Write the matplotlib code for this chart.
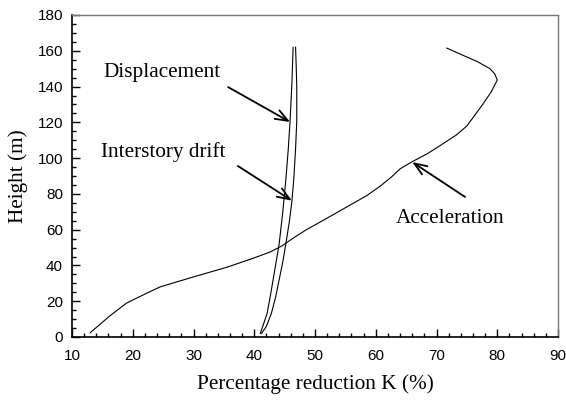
import matplotlib
matplotlib.use("Agg")
import matplotlib.pyplot as plt
from matplotlib.ticker import MultipleLocator

# values
disp_k = [41.0, 41.5, 42.1, 42.6, 43.1, 43.6, 44.1, 44.7, 45.2, 45.6, 45.9, 46.2, 46.4]
disp_h = [2, 7, 13, 22, 32, 42, 52, 70, 88, 105, 121, 142, 162]
drift_k = [41.2, 42.0, 42.8, 43.5, 44.1, 44.7, 45.2, 45.8, 46.2, 46.5, 46.8, 47.0, 47.0, 46.9, 46.8]
drift_h = [2, 6, 13, 22, 32, 42, 52, 65, 76, 88, 105, 121, 140, 152, 162]
accel_k = [13.0, 16.3, 19.0, 21.7, 24.5, 29.9, 35.5, 39.8, 42.6, 44.6, 46.5, 48.6, 51.5, 55.8,
           58.5, 60.8, 62.6, 64.0, 66.0, 68.5, 70.6, 73.3, 75.0, 76.3, 77.6, 79.0, 80.0,
           79.6, 78.8, 76.7, 74.0, 71.7]
accel_h = [2.4, 12, 19, 23.5, 28, 33.5, 39, 44, 47.5, 51, 55.5, 60, 65.5, 73.8,
           79, 84.5, 89.5, 94, 98, 102.5, 107, 113, 118, 124, 130, 137, 143.6,
           147, 150, 154, 158, 161.5]

plt.rcParams["font.family"] = "Liberation Serif"

fig = plt.figure(figsize=(5.66, 4.0), dpi=100)
ax = fig.add_axes([72 / 566, 63 / 400, 486 / 566, 322 / 400])

ax.plot(disp_k, disp_h, color="black", lw=0.8)
ax.plot(drift_k, drift_h, color="black", lw=0.8)
ax.plot(accel_k, accel_h, color="black", lw=0.8)

arrow = dict(arrowstyle="->,head_length=0.9,head_width=0.35", color="black", lw=1.3, shrinkA=0, shrinkB=0)
ax.annotate("", xy=(45.9, 120.2), xytext=(35.7, 139.7), arrowprops=arrow)
ax.annotate("", xy=(46.2, 76.2), xytext=(37.3, 95.6), arrowprops=arrow)
ax.annotate("", xy=(66.0, 97.8), xytext=(74.7, 78.3), arrowprops=arrow)
ax.text(15.1, 147.6, "Displacement", fontsize=15.3, va="center", ha="left")
ax.text(14.8, 103.4, "Interstory drift", fontsize=15.3, va="center", ha="left")
ax.text(63.3, 66, "Acceleration", fontsize=15.3, va="center", ha="left")

ax.set_xlim(10, 90)
ax.set_ylim(0, 180)
ax.xaxis.set_major_locator(MultipleLocator(10))
ax.xaxis.set_minor_locator(MultipleLocator(2))
ax.yaxis.set_major_locator(MultipleLocator(20))
ax.yaxis.set_minor_locator(MultipleLocator(5))
ax.tick_params(which="both", direction="in", top=False, right=False, width=1.0, labelsize=11)
ax.tick_params(which="major", length=6)
ax.tick_params(which="minor", length=3)
ax.tick_params(axis="x", which="major", pad=9)
ax.tick_params(axis="y", which="major", pad=6.5)
for lab in ax.get_xticklabels() + ax.get_yticklabels():
    lab.set_family("Liberation Sans")
ax.spines["left"].set_linewidth(1.2)
ax.spines["bottom"].set_linewidth(1.2)
for side in ["top", "right"]:
    ax.spines[side].set_color("#777777")
    ax.spines[side].set_linewidth(1.0)

ax.set_xlabel("Percentage reduction K (%)", fontsize=15.3, labelpad=8)
ax.set_ylabel("Height (m)", fontsize=15.3, labelpad=7)

fig.savefig("out.png", dpi=100)
